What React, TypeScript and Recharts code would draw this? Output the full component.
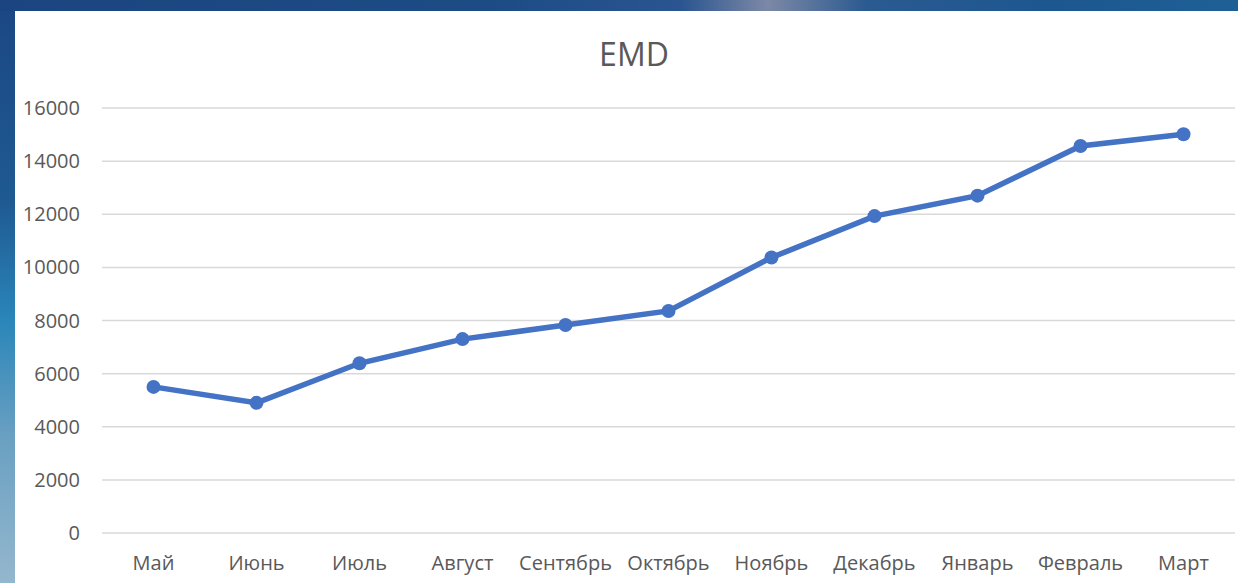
import React from "react";
import { LineChart, Line, XAxis, YAxis, CartesianGrid } from "recharts";

const months = ["Май", "Июнь", "Июль", "Август", "Сентябрь", "Октябрь", "Ноябрь", "Декабрь", "Январь", "Февраль", "Март"];
const emdValues = [5500, 4900, 6390, 7300, 7830, 8360, 10370, 11930, 12700, 14570, 15010];
const yTicks = [0, 2000, 4000, 6000, 8000, 10000, 12000, 14000, 16000];
const chartTitle = "EMD";

const data = months.map((m, i) => ({ month: m, value: emdValues[i] }));

const FONT = "'Open Sans', sans-serif";
const TEXT = "#595959";

export default function App() {
  return (
    <div
      style={{
        position: "absolute",
        left: 0,
        top: 0,
        width: 1238,
        height: 583,
        overflow: "hidden",
        background:
          "linear-gradient(180deg, #1b4783 0%, #1f5a93 35%, #2a86b9 55%, #6aa0c2 75%, #94b7cd 100%)",
      }}
    >
      <div
        style={{
          position: "absolute",
          left: 0,
          top: 0,
          width: 1238,
          height: 11,
          background:
            "linear-gradient(90deg, #1b4580 0%, #1d4c85 40%, #2a5590 55%, #7d88a6 62%, #2a5a90 70%, #1d5790 85%, #1e6096 100%)",
        }}
      />
      <div
        style={{
          position: "absolute",
          left: 15,
          top: 11,
          width: 1223,
          height: 572,
          background: "#ffffff",
        }}
      />
      <div
        style={{
          position: "absolute",
          left: 534,
          top: 33,
          width: 200,
          textAlign: "center",
          fontFamily: FONT,
          fontSize: 32,
          color: TEXT,
          lineHeight: "42px",
        }}
      >
        {chartTitle}
      </div>
      <div style={{ position: "absolute", left: 0, top: 0 }}>
        <LineChart
          width={1238}
          height={583}
          data={data}
          margin={{ top: 108, right: 3, bottom: 0, left: 2 }}
        >
          <CartesianGrid vertical={false} stroke="#d9d9d9" strokeWidth={1.5} />
          <XAxis
            dataKey="month"
            axisLine={false}
            tickLine={false}
            tickSize={0}
            tickMargin={23}
            interval={0}
            padding={{ left: 51.5, right: 51.5 }}
            tick={{ fill: TEXT, fontSize: 20, fontFamily: FONT }}
            height={50}
          />
          <YAxis
            domain={[0, 16000]}
            ticks={yTicks}
            axisLine={false}
            tickLine={false}
            tickSize={0}
            tickMargin={22}
            width={100}
            tick={{ fill: TEXT, fontSize: 20, fontFamily: FONT }}
          />
          <Line
            type="linear"
            dataKey="value"
            stroke="#4472c4"
            strokeWidth={5.5}
            dot={{ r: 7, fill: "#4472c4", stroke: "#4472c4", strokeWidth: 0 }}
            isAnimationActive={false}
          />
        </LineChart>
      </div>
    </div>
  );
}
